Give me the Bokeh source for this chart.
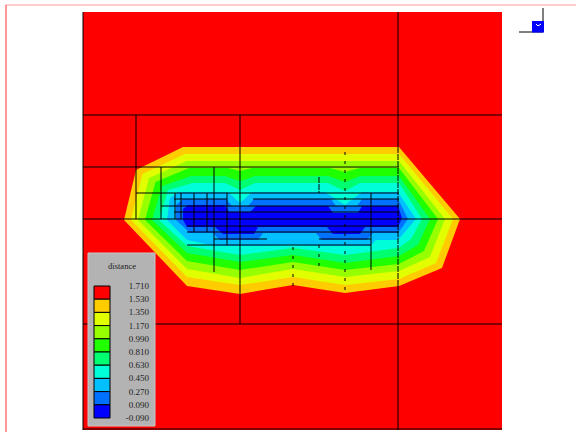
from bokeh.plotting import figure
from bokeh.embed import file_html
from bokeh.resources import INLINE

domain_x = [83, 502]
domain_y = [12, 430]

level_labels = ["1.710", "1.530", "1.350", "1.170", "0.990", "0.810", "0.630", "0.450", "0.270", "0.090", "-0.090"]
level_colors = ["#ff0000", "#ffcc00", "#e1ff00", "#96ff00", "#20ff00", "#00ff70", "#00ffd8", "#00c0ff", "#0070ff", "#0000ff"]

contour_orange = [(183,147),(399,147),(460,219),(442,268),(399,286),(345,293),(293,285),(240,294),(187,286),(124,220),(136,170)]
contour_yellow = [(185,154),(399,154),(453,219),(436,263),(399,279),(345,285),(293,277),(240,285),(187,277),(131,220),(142.5,174)]
contour_lime = [(187,161),(399,161),(445,219),(430,257),(399,271),(345,277),(293,269),(240,278),(187,269),(138,220),(149,178)]
contour_green = [(189,168),(228,168),(240,171),(252,168),(330,168),(345,172),(360,168),(399,168),(438,219),(424,251),(399,264),(345,270),(293,262),(240,270),(187,261),(145,220),(155.5,182)]
contour_spring = [(191,176),(225,176),(240,181),(255,176),(328,176),(345,182),(360,176),(399,176),(430,219),(418,245),(399,256),(345,263),(293,255),(240,262),(187,253),(152,220),(162,186)]
contour_aqua = [(193,183),(225,183),(240,190),(255,183),(328,183),(345,191),(360,183),(399,183),(422,219),(411,239),(399,248),(345,255),(293,248),(240,255),(187,246),(159,220),(168,190)]
contour_sky = [(178,192),(228,192),(240,203),(252,192),(325,192),(345,205),(362,192),(398,192),(416,219),(398,240),(376,240),(370,246),(316,246),(293,245),(262,246),(215,246),(187,240),(167,220),(170,198)]
contour_azure = [(183,199),(226,199),(232,206),(248,206),(254,199),(331,199),(336,206),(357,206),(362,199),(398,199),(408,219),(398,233),(373,233),(367,240),(322,240),(316,233),(263,233),(258,240),(220,240),(213,233),(190,233),(176,220),(176,205)]
contour_blue = [(188,205),(225,205),(229,212),(250,212),(256,206),(328,206),(333,213),(358,213),(362,206),(398,206),(402,218),(398,227),(365,227),(360,234),(333,234),(327,227),(258,227),(254,234),(223,234),(215,227),(187,227),(183,220),(183,209)]
contours = [contour_orange, contour_yellow, contour_lime, contour_green, contour_spring, contour_aqua, contour_sky, contour_azure, contour_blue]

# Mesh cell edges as (start, end, constant)
h_edges = [(83,502,115),(83,399,167),(136,399,193),(174,227,199),(253,399,199),(161,399,206),(174,399,212),
           (83,502,219),(187,399,226),(187,399,232),(214,267,239),(319,371,239),(187,371,245),(83,502,324),(83,502,429)]
v_edges = [(83,12,430),(398,12,147),(398,286,430),(240,115,324),(136,115,219),(161,167,219),(214,167,272),
           (175,193,219),(181,193,219),(194,193,232),(207,193,232),(227,193,245),(371,193,270)]
v_dense = [(398,147,286),(319,177,193)]
v_sparse = [(345,152,290),(319,245,272),(293,247,287)]

p = figure(width=576, height=432, x_range=(0.5,576.5), y_range=(432.5,0.5),
           output_backend="svg", toolbar_location=None, min_border=0)
p.axis.visible = False
p.grid.visible = False
p.outline_line_color = None
p.background_fill_color = "white"
p.border_fill_color = "white"

# window frame
p.line([6,577],[5,5], line_color="#ff9a9a", line_width=1)
p.line([6,6],[5,433], line_color="#ff3030", line_width=1)

# domain + contours
p.quad(left=[domain_x[0]], right=[domain_x[1]], top=[domain_y[0]], bottom=[domain_y[1]], fill_color=level_colors[0], line_color=None)
for poly, col in zip(contours, level_colors[1:]):
    p.patch([a for a,_ in poly],[b for _,b in poly], fill_color=col, line_color=None)

# mesh
for x0,x1,y in h_edges:
    p.line([x0,x1],[y,y], line_color="black", line_width=1)
for x,y0,y1 in v_edges:
    p.line([x,x],[y0,y1], line_color="black", line_width=1)
for x,y0,y1 in v_dense:
    p.line([x,x],[y0,y1], line_color="black", line_width=1, line_dash="6 1")
for x,y0,y1 in v_sparse:
    p.line([x,x],[y0,y1], line_color="black", line_width=1, line_dash="3 6")

# legend
p.quad(left=[88], right=[155], top=[253], bottom=[426], fill_color="#b3b3b3", line_color="#c8c8c8", line_width=1)
sw_top = 286.0; sw_h = 13.2
for i, col in enumerate(level_colors):
    p.quad(left=[94], right=[110], top=[sw_top+i*sw_h], bottom=[sw_top+(i+1)*sw_h], fill_color=col, line_color="black", line_width=1)
p.text(x=[122], y=[266], text=["distance"], text_font_size="8.5px", text_font={"value":"Liberation Serif"},
       text_align="center", text_baseline="middle", text_color="#222222")
p.text(x=[149]*len(level_labels), y=[sw_top+i*sw_h for i in range(len(level_labels))], text=level_labels,
       text_font_size="9px", text_font={"value":"Liberation Serif"}, text_align="right", text_baseline="middle", text_color="#222222")

# triad
p.line([543,543],[8,32], line_color="black", line_width=1)
p.line([519,543],[32,32], line_color="black", line_width=1)
p.quad(left=[532], right=[544], top=[21], bottom=[32.5], fill_color="#0000ff", line_color=None)
p.line([536,538,541],[24,26,24], line_color="white", line_width=1)

open("out.html","w").write(file_html(p, INLINE))
